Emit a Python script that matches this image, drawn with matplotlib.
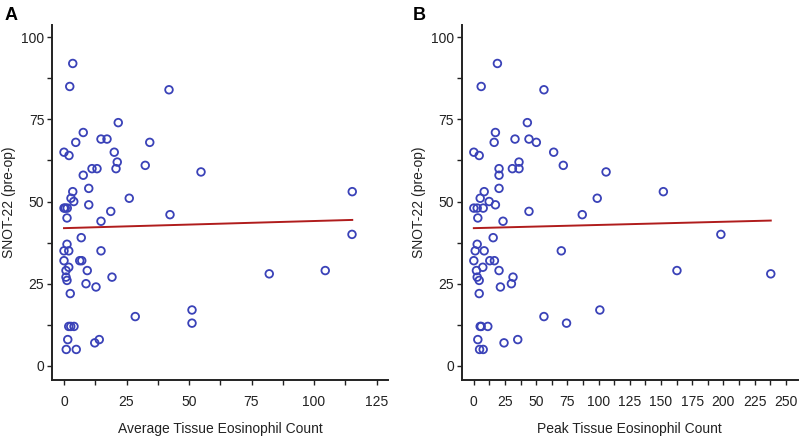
import matplotlib
matplotlib.use("Agg")
import matplotlib.pyplot as plt
import numpy as np
from matplotlib.ticker import MultipleLocator

plt.rcParams['font.family'] = ['Liberation Sans', 'DejaVu Sans']

# Panel A: average tissue eosinophil count vs SNOT-22
avg_eos = [3.5, 2.3, 42, 21.7, 7.7, 4.7, 14.8, 17.2, 34.3, 0, 2, 20.1, 21.3, 20.8, 11.2, 13.2,
           32.5, 54.8, 7.7, 9.9, 3.5, 2.8, 3.9, 26.1, 9.9, 115.3, 0, 0.5, 1.3, 18.7, 42.4, 1.2,
           14.8, 6.9, 1.2, 0, 1.9, 14.8, 0, 6.3, 7.1, 1.9, 0.8, 9.3, 0.8, 1.2, 19.2, 8.8,
           12.8, 2.5, 82.1, 104.5, 115.2, 51.2, 51.2, 28.5, 1.9, 2.7, 4.0, 1.5, 14.1, 12.3, 0.9, 4.9]
snot_a = [92, 85, 84, 74, 71, 68, 69, 69, 68, 65, 64, 65, 62, 60, 60, 60,
          61, 59, 58, 54, 53, 51, 50, 51, 49, 53, 48, 48, 48, 47, 46, 45,
          44, 39, 37, 35, 35, 35, 32, 32, 32, 30, 29, 29, 27, 26, 27, 25,
          24, 22, 28, 29, 40, 17, 13, 15, 12, 12, 12, 8, 8, 7, 5, 5]

# Panel B: peak tissue eosinophil count vs SNOT-22
peak_eos = [18.9, 5.9, 56.2, 42.9, 17.3, 16.3, 33, 44.2, 50.1, 0, 4.3, 64, 36.2, 30.9, 36.2, 20.2,
            71.7, 106, 20.2, 20.2, 8.3, 5.1, 12.3, 98.9, 17.3, 151.9, 0, 2.7, 7.5, 44.2, 86.9, 3.2,
            23.4, 15.5, 2.7, 1.1, 8.3, 70.1, 0, 12.8, 16.5, 7.2, 2.1, 20.2, 2.7, 4.3, 31.4, 30.1,
            21.3, 4.3, 238, 162.8, 198, 101, 74.3, 56.2, 5.1, 5.9, 11.2, 3.2, 35.2, 24.2, 4.6, 7.5]
snot_b = [92, 85, 84, 74, 71, 68, 69, 69, 68, 65, 64, 65, 62, 60, 60, 60,
          61, 59, 58, 54, 53, 51, 50, 51, 49, 53, 48, 48, 48, 47, 46, 45,
          44, 39, 37, 35, 35, 35, 32, 32, 32, 30, 29, 29, 27, 26, 27, 25,
          24, 22, 28, 29, 40, 17, 13, 15, 12, 12, 12, 8, 8, 7, 5, 5]

# Fit lines (intercept, slope)
fit_a = [41.9, 0.0217]
fit_b = [41.9, 0.0097]

panels = [
    dict(x=avg_eos, y=snot_a, fit=fit_a, xlim=(-4.8, 129.6), xlabel="Average Tissue Eosinophil Count",
         letter="A", rect=[0.065, 0.1324, 0.42, 0.8105], letter_x=0.006),
    dict(x=peak_eos, y=snot_b, fit=fit_b, xlim=(-9.8, 259.5), xlabel="Peak Tissue Eosinophil Count",
         letter="B", rect=[0.577, 0.1324, 0.42, 0.8105], letter_x=0.516),
]

fig = plt.figure(figsize=(8.0, 4.38), dpi=100)
circ = "#3a42b8"
for p in panels:
    ax = fig.add_axes(p["rect"])
    ax.scatter(p["x"], p["y"], s=30, facecolors="none", edgecolors=circ, linewidths=1.3, zorder=3)
    xs = np.array([min(p["x"]), max(p["x"])])
    ax.plot(xs, p["fit"][0] + p["fit"][1] * xs, color="#b01c1c", lw=1.4, zorder=2)
    ax.set_xlim(*p["xlim"])
    ax.set_ylim(-4.3, 103.7)
    ax.xaxis.set_major_locator(MultipleLocator(25))
    ax.xaxis.set_minor_locator(MultipleLocator(12.5))
    ax.yaxis.set_major_locator(MultipleLocator(25))
    ax.yaxis.set_minor_locator(MultipleLocator(12.5))
    for s in ["top", "right"]:
        ax.spines[s].set_visible(False)
    for s in ["left", "bottom"]:
        ax.spines[s].set_linewidth(1.4)
        ax.spines[s].set_color("#222222")
    ax.tick_params(axis="both", which="both", direction="out", length=3.5, width=1.0, color="#222222")
    ax.tick_params(axis="x", which="major", pad=7, labelsize=10, labelcolor="#222222")
    ax.tick_params(axis="y", which="major", pad=2, labelsize=10, labelcolor="#222222")
    ax.set_xlabel(p["xlabel"], fontsize=10, labelpad=9.5, color="#222222")
    ax.set_ylabel("SNOT-22 (pre-op)", fontsize=10, labelpad=3.5, color="#222222")
    fig.text(p["letter_x"], 0.985, p["letter"], fontsize=13, fontweight="bold", va="top", ha="left")

fig.savefig("out.png", dpi=100)
